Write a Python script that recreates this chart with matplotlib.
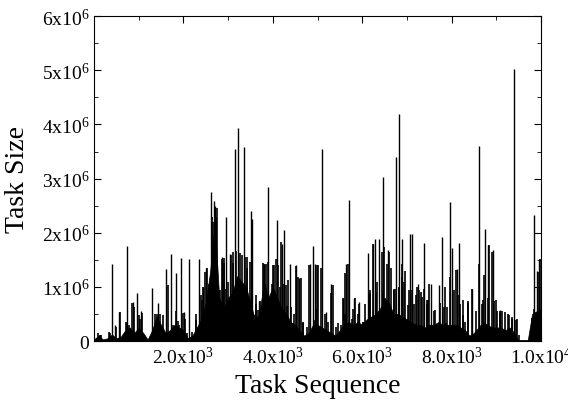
import numpy as np
import matplotlib.pyplot as plt

# values (task index, task size in units of 1e6)
# dense low body of the trace, one value per 100 tasks
env_x = np.arange(0, 10001, 100)
env_y = [0.03, 0.10, 0.03, 0.05, 0.12, 0.05, 0.08, 0.20, 0.25, 0.15,
         0.25, 0.15, 0.03, 0.20, 0.45, 0.30, 0.15, 0.20, 0.30, 0.25,
         0.20, 0.05, 0.10, 0.25, 0.40, 0.70, 1.30, 2.20, 0.80, 0.60,
         0.80, 0.90, 1.20, 1.10, 1.00, 0.70, 0.40, 0.50, 1.10, 0.80,
         1.00, 0.80, 0.60, 0.50, 0.35, 0.30, 0.20, 0.10, 0.15, 0.30,
         0.30, 0.25, 0.20, 0.15, 0.10, 0.20, 0.30, 0.35, 0.30, 0.35,
         0.30, 0.40, 0.45, 0.50, 0.60, 0.80, 0.70, 0.50, 0.50, 0.45,
         0.40, 0.35, 0.30, 0.30, 0.25, 0.30, 0.30, 0.35, 0.30, 0.30,
         0.30, 0.30, 0.25, 0.20, 0.10, 0.15, 0.25, 0.35, 0.30, 0.25,
         0.25, 0.25, 0.20, 0.25, 0.15, 0.00, 0.00, 0.00, 0.50, 0.55, 0.60]

# tall spikes
spike_x = [410, 480, 566, 731, 865, 955, 1060, 1290, 1440, 1610, 1715, 1835,
           1940, 2021, 2133, 2357, 2431, 2505, 2617, 2685, 2700, 2864, 2953,
           3042, 3147, 3221, 3348, 3512, 3535, 3699, 3803, 3899, 4087, 4199,
           4251, 4385, 4512, 4586, 4832, 4892, 4950, 5108, 5197, 5309, 5577,
           5638, 5705, 5824, 5936, 6123, 6234, 6294, 6376, 6472, 6585, 6749,
           6816, 6898, 7069, 7107, 7256, 7383, 7539, 7711, 7778, 7957, 8009,
           8120, 8166, 8449, 8620, 8747, 8821, 8933, 9083, 9403, 9837, 9903,
           9948]
spike_y = [1.42, 0.30, 0.54, 1.75, 0.72, 0.88, 0.55, 0.98, 0.70, 1.33, 1.60,
           1.26, 1.53, 0.53, 1.51, 1.51, 1.00, 1.35, 2.75, 2.58, 2.50, 1.55,
           2.30, 1.60, 3.54, 3.94, 3.58, 2.40, 2.26, 0.73, 1.43, 2.85, 2.23,
           1.80, 2.05, 1.43, 1.40, 1.17, 1.43, 1.75, 1.43, 3.55, 0.54, 1.05,
           0.80, 1.43, 2.60, 0.79, 0.72, 1.62, 1.80, 1.88, 1.88, 3.03, 1.68,
           3.40, 4.19, 1.88, 1.97, 1.97, 1.05, 1.81, 1.05, 1.03, 1.92, 2.56,
           1.71, 1.33, 1.81, 0.96, 3.60, 2.06, 1.78, 1.69, 0.58, 5.03, 2.32,
           1.30, 1.50]

# smaller spikes inside the body
mid_x = [97, 134, 146, 341, 350, 485, 574, 611, 706, 746, 787, 858, 895,
         1007, 1031, 1081, 1119, 1357, 1402, 1477, 1551, 1655, 1775, 1843,
         1879, 1899, 1999, 2045, 2073, 2185, 2282, 2289, 2401, 2411, 2438,
         2483, 2520, 2558, 2573, 2640, 2660, 2720, 2740, 2760, 2781, 2817,
         2871, 2898, 2915, 2953, 2990, 3057, 3101, 3117, 3169, 3266, 3304,
         3318, 3378, 3425, 3430, 3490, 3542, 3587, 3624, 3628, 3661, 3713,
         3791, 3795, 3848, 3900, 3975, 3994, 4027, 4071, 4124, 4156, 4183,
         4250, 4295, 4318, 4347, 4407, 4459, 4481, 4511, 4571, 4631, 4668,
         4684, 4720, 4765, 4817, 4929, 4968, 4981, 5003, 5034, 5078, 5171,
         5227, 5302, 5339, 5414, 5451, 5525, 5536, 5577, 5617, 5622, 5675,
         5779, 5786, 5838, 5901, 5935, 6010, 6023, 6070, 6182, 6185, 6249,
         6307, 6331, 6443, 6469, 6495, 6547, 6592, 6651, 6704, 6713, 6756,
         6818, 6830, 6883, 6890, 6943, 6956, 7017, 7037, 7091, 7166, 7200,
         7226, 7278, 7322, 7337, 7390, 7443, 7449, 7472, 7502, 7606, 7636,
         7744, 7838, 7849, 7882, 7906, 7972, 8052, 8106, 8149, 8196, 8248,
         8255, 8308, 8360, 8377, 8457, 8531, 8539, 8606, 8680, 8701, 8718,
         8823, 8830, 8904, 8941, 9001, 9026, 9076, 9091, 9128, 9203, 9253,
         9277, 9351, 9352, 9449, 9473, 9501, 9799, 9836, 9926, 9970]
mid_y = [0.15, 0.12, 0.12, 0.17, 0.14, 0.26, 0.53, 0.08, 0.35, 0.33, 0.30,
         0.70, 0.62, 0.48, 0.40, 0.51, 0.11, 0.49, 0.49, 0.50, 0.48, 1.03,
         0.30, 0.55, 0.37, 0.30, 0.51, 0.40, 0.14, 0.17, 0.39, 0.50, 0.85,
         0.75, 1.00, 1.28, 1.34, 0.48, 1.05, 2.30, 2.20, 2.30, 2.20, 2.45,
         0.54, 0.95, 1.52, 1.45, 1.54, 0.97, 1.09, 1.59, 1.45, 1.65, 1.66,
         1.62, 1.00, 1.59, 1.56, 1.55, 1.34, 1.46, 0.66, 0.48, 0.68, 0.85,
         0.57, 0.73, 1.45, 1.43, 1.43, 1.46, 1.06, 1.40, 1.41, 1.52, 1.40,
         1.00, 1.83, 1.05, 1.03, 0.65, 1.13, 0.63, 0.33, 0.50, 1.39, 1.19,
         1.16, 0.33, 0.35, 0.08, 0.25, 1.41, 0.39, 0.60, 1.41, 1.41, 0.17,
         1.34, 0.50, 0.36, 0.88, 1.03, 0.25, 0.33, 0.20, 0.30, 0.79, 0.50,
         1.25, 1.43, 0.40, 0.60, 0.79, 0.50, 0.69, 0.36, 0.35, 0.69, 0.88,
         0.95, 1.80, 0.90, 1.09, 1.65, 0.95, 1.74, 1.43, 1.65, 1.34, 0.94,
         0.97, 0.97, 0.98, 1.00, 1.43, 1.19, 1.09, 1.30, 0.66, 0.95, 0.94,
         0.69, 0.85, 1.00, 0.94, 0.90, 0.82, 0.97, 0.75, 0.69, 0.76, 1.05,
         0.55, 0.57, 0.70, 0.63, 1.00, 0.33, 0.63, 1.19, 0.95, 1.31, 0.85,
         0.69, 0.48, 0.75, 0.36, 0.73, 0.70, 0.97, 0.11, 0.55, 1.43, 0.69,
         0.75, 1.22, 0.80, 1.77, 1.65, 0.73, 0.76, 0.55, 0.51, 0.55, 0.55,
         0.54, 0.50, 0.48, 0.40, 0.45, 0.39, 0.40, 0.11, 0.42, 0.60, 1.28,
         1.51]

x_ticks = [2000, 4000, 6000, 8000, 10000]
x_labels = [r'2.0x10$^3$', r'4.0x10$^3$', r'6.0x10$^3$', r'8.0x10$^3$', r'1.0x10$^4$']
y_ticks = [0, 1e6, 2e6, 3e6, 4e6, 5e6, 6e6]
y_labels = ['0', r'1x10$^6$', r'2x10$^6$', r'3x10$^6$', r'4x10$^6$', r'5x10$^6$', r'6x10$^6$']

plt.rcParams['font.family'] = ['Liberation Serif', 'DejaVu Serif']
plt.rcParams['mathtext.fontset'] = 'custom'
plt.rcParams['mathtext.rm'] = 'Liberation Serif'
plt.rcParams['mathtext.it'] = 'Liberation Serif:italic'

fig = plt.figure(figsize=(5.68, 4.06), dpi=100)
ax = fig.add_axes([0.1655, 0.1576, 0.787, 0.8])

ax.fill_between(env_x, 0, np.array(env_y) * 1e6, color='black', lw=0.5)
ax.vlines(mid_x, 0, np.array(mid_y) * 1e6, color='black', lw=1.2)
ax.vlines(spike_x, 0, np.array(spike_y) * 1e6, color='black', lw=1.0)
ax.axhline(0, color='black', lw=2)

ax.set_xlim(0, 10000)
ax.set_ylim(0, 6e6)
ax.set_xticks(x_ticks)
ax.set_xticklabels(x_labels)
ax.set_xticks([1000, 3000, 5000, 7000, 9000], minor=True)
ax.set_yticks(y_ticks)
ax.set_yticklabels(y_labels)
ax.set_yticks(np.arange(0.5e6, 6e6, 1e6), minor=True)
ax.tick_params(which='both', direction='in', top=True, right=True, labelsize=14)
ax.tick_params(which='major', length=5)
ax.tick_params(which='minor', length=3)

ax.set_xlabel('Task Sequence', fontsize=20, labelpad=4)
ax.set_ylabel('Task Size', fontsize=20, labelpad=8)

plt.savefig('out.png', dpi=100)
